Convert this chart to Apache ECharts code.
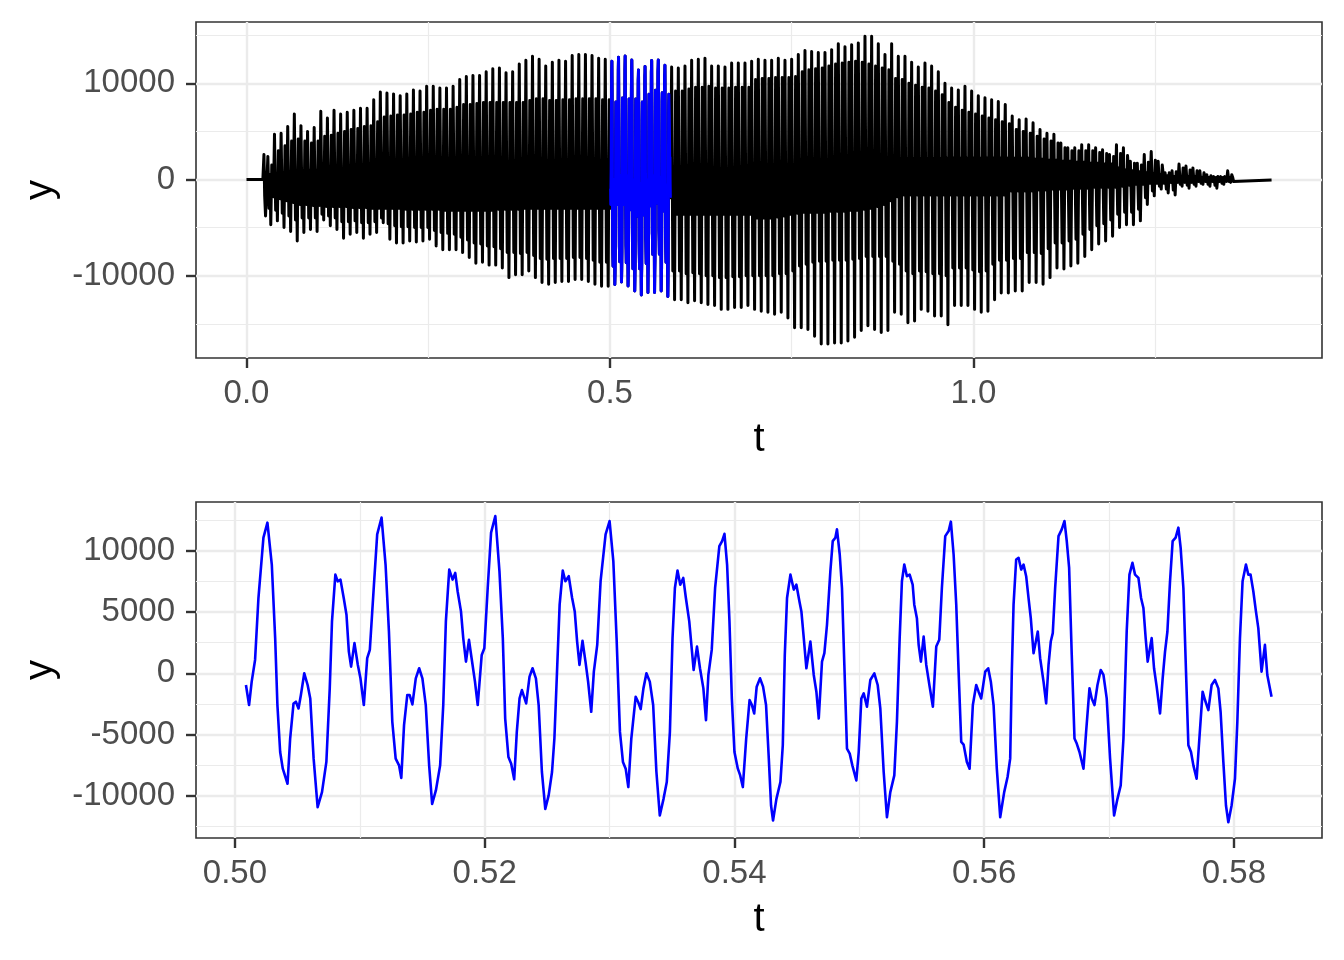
<!DOCTYPE html>
<html><head><meta charset="utf-8">
<script src="https://cdn.jsdelivr.net/npm/echarts@6/dist/echarts.min.js"></script>
<style>html,body{margin:0;padding:0;background:#fff}#c{width:1344px;height:960px}</style>
</head><body><div id="c"></div>
<script>
// ---------------- DATA ----------------
// Bottom panel: detailed waveform 0.501..0.583 s  [t, y]
const zoomSamples = [
[0.50088,-955],[0.50113,-2590],[0.50134,-680],[0.50161,1090],[0.50188,6140],[0.50228,11060],[0.50260,12285],[0.50295,8870],[0.50322,2870],[0.50340,-2590],[0.50362,-6420],[0.50383,-7780],[0.50421,-9010],[0.50442,-5320],[0.50469,-2460],[0.50488,-2320],[0.50509,-2870],[0.50528,-1770],[0.50555,0],[0.50582,-955],[0.50603,-2050],[0.50630,-6960],[0.50662,-10920],[0.50697,-9690],[0.50732,-7230],[0.50759,-1230],[0.50777,4230],[0.50804,8050],[0.50823,7500],[0.50845,7640],[0.50871,6140],[0.50893,4780],[0.50912,1770],[0.50930,546],[0.50957,2460],[0.50984,680],[0.51005,-410],[0.51032,-2590],[0.51059,1230],[0.51080,1910],
[0.51113,7230],[0.51139,11330],[0.51174,12700],[0.51206,8870],[0.51233,3410],[0.51260,-3960],[0.51287,-6960],[0.51314,-7510],[0.51332,-8540],[0.51354,-4230],[0.51380,-1770],[0.51399,-1770],[0.51421,-2540],[0.51448,-410],[0.51475,410],[0.51501,-410],[0.51528,-2590],[0.51555,-7510],[0.51579,-10650],[0.51609,-9555],[0.51643,-7510],[0.51668,-2590],[0.51689,4230],[0.51716,8460],[0.51743,7640],[0.51764,8190],[0.51783,6690],[0.51810,5050],[0.51828,2870],[0.51850,955],[0.51874,2730],[0.51895,1230],[0.51922,-680],[0.51944,-2590],[0.51976,1500],[0.51997,2050],[0.52024,6960],[0.52051,11470],
[0.52085,12830],[0.52118,8330],[0.52145,2870],[0.52164,-3690],[0.52190,-6830],[0.52212,-7370],[0.52236,-8650],[0.52257,-4780],[0.52279,-2050],[0.52298,-1365],[0.52332,-2460],[0.52359,-273],[0.52383,410],[0.52410,-410],[0.52432,-2590],[0.52458,-8050],[0.52485,-11060],[0.52512,-9960],[0.52539,-8050],[0.52558,-5320],[0.52579,137],[0.52600,5600],[0.52625,8380],[0.52646,7510],[0.52673,7920],[0.52700,6140],[0.52721,5050],[0.52740,2590],[0.52759,680],[0.52783,2650],[0.52807,955],[0.52828,-680],[0.52853,-3140],[0.52874,137],[0.52901,2320],[0.52928,7510],[0.52968,11330],
[0.53000,12420],[0.53030,9150],[0.53056,2870],[0.53083,-4780],[0.53107,-7230],[0.53129,-7780],[0.53150,-9280],[0.53174,-5320],[0.53209,-1910],[0.53228,-2320],[0.53249,-2920],[0.53271,-1230],[0.53295,0],[0.53322,-680],[0.53349,-2590],[0.53375,-8050],[0.53402,-11600],[0.53432,-10240],[0.53458,-8870],[0.53483,-4780],[0.53504,2870],[0.53523,6960],[0.53544,8380],[0.53566,7230],[0.53590,7780],[0.53611,6140],[0.53638,4230],[0.53660,1770],[0.53673,273],[0.53700,2180],[0.53724,410],[0.53751,-1230],[0.53772,-3820],[0.53791,-137],[0.53818,1910],[0.53845,6960],[0.53879,10370],[0.53901,10780],
[0.53920,11380],[0.53941,8870],[0.53960,4230],[0.53979,-2050],[0.54000,-6420],[0.54027,-7780],[0.54046,-8330],[0.54067,-9280],[0.54094,-5320],[0.54121,-2180],[0.54140,-2590],[0.54158,-3280],[0.54178,-1090],[0.54205,-410],[0.54229,-1090],[0.54253,-2590],[0.54275,-6960],[0.54293,-10780],[0.54309,-12010],[0.54336,-10240],[0.54368,-8870],[0.54387,-5870],[0.54403,1500],[0.54421,6140],[0.54448,8050],[0.54475,6830],[0.54496,7230],[0.54520,5870],[0.54536,5050],[0.54555,2870],[0.54576,410],[0.54608,2590],[0.54635,-137],[0.54656,-1500],[0.54675,-3690],[0.54701,955],[0.54720,1640],[0.54741,3960],[0.54768,8330],[0.54787,10780],[0.54808,11060],
[0.54821,11740],[0.54843,9690],[0.54861,6960],[0.54880,680],[0.54901,-6140],[0.54923,-6550],[0.54944,-7510],[0.54976,-8740],[0.54995,-6420],[0.55016,-2050],[0.55035,-1640],[0.55061,-2730],[0.55088,-546],[0.55120,0],[0.55147,-955],[0.55168,-2870],[0.55195,-8050],[0.55221,-11740],[0.55248,-9690],[0.55280,-8330],[0.55301,-3960],[0.55323,2870],[0.55341,7510],[0.55360,8870],[0.55381,7920],[0.55403,8050],[0.55427,7230],[0.55440,5600],[0.55461,4500],[0.55475,2320],[0.55493,955],[0.55515,3000],[0.55536,680],[0.55563,-1090],[0.55589,-2730],[0.55616,2180],[0.55640,2730],[0.55661,6960],[0.55688,11190],[0.55715,11600],
[0.55733,12370],[0.55755,9690],[0.55776,5600],[0.55795,137],[0.55816,-5600],[0.55835,-5810],[0.55861,-7230],[0.55883,-7780],[0.55909,-2590],[0.55936,-955],[0.55955,-1500],[0.55976,-2050],[0.56008,137],[0.56032,410],[0.56053,-680],[0.56075,-2590],[0.56101,-7780],[0.56128,-11740],[0.56160,-9690],[0.56187,-8460],[0.56208,-6960],[0.56221,137],[0.56235,5600],[0.56256,9280],[0.56275,9420],[0.56296,8460],[0.56315,8870],[0.56336,7920],[0.56355,6140],[0.56373,4500],[0.56395,1640],[0.56408,1500],[0.56429,3410],[0.56448,1230],[0.56475,-680],[0.56496,-2460],[0.56515,680],[0.56533,2590],[0.56549,3280],[0.56568,6960],[0.56595,11190],[0.56621,11740],
[0.56643,12420],[0.56661,10780],[0.56680,8600],[0.56701,1500],[0.56723,-5320],[0.56741,-5730],[0.56763,-6420],[0.56795,-7780],[0.56816,-4780],[0.56843,-1230],[0.56861,-2050],[0.56883,-2590],[0.56907,-955],[0.56933,273],[0.56955,-137],[0.56981,-2050],[0.57008,-6960],[0.57040,-11600],[0.57067,-10240],[0.57093,-9150],[0.57115,-5320],[0.57141,3410],[0.57163,8050],[0.57187,9010],[0.57208,8050],[0.57235,7780],[0.57256,6140],[0.57275,5320],[0.57293,2870],[0.57309,955],[0.57341,2870],[0.57360,410],[0.57381,-1090],[0.57408,-3280],[0.57429,-410],[0.57448,1770],[0.57467,3410],[0.57488,7510],[0.57509,10780],[0.57533,11060],
[0.57555,11880],[0.57573,10240],[0.57595,6960],[0.57616,137],[0.57635,-5870],[0.57656,-6420],[0.57675,-7510],[0.57701,-8600],[0.57723,-5320],[0.57749,-1500],[0.57768,-2180],[0.57795,-3000],[0.57821,-955],[0.57848,-546],[0.57875,-1230],[0.57893,-3140],[0.57915,-7230],[0.57936,-10780],[0.57955,-12150],[0.57981,-10780],[0.58008,-8600],[0.58027,-3960],[0.58048,2870],[0.58069,7510],[0.58096,8870],[0.58115,8050],[0.58133,8050],[0.58155,6690],[0.58176,5050],[0.58195,3690],[0.58221,137],[0.58248,2320],[0.58267,-137],[0.58301,-1910]
];

// Top panel: onset and tail (flat silence) samples
const onsetT = [0, 0.0225, 0.0240, 0.0250, 0.0262, 0.0278];
const onsetY = [0, 0, 2600, -1700, -3800, -600];
const tailT = [1.3580, 1.4100];
const tailY = [-100, -60];

// Top panel: one entry per glottal cycle (values in hundreds).
// Cycles 0..51 precede the blue segment, 52..134 follow it.
const topPeak = [24,47,48,55,68,56,50,54,71,64,72,68,70,72,74,74,83,91,90,89,87,89,93,92,97,97,95,95,97,104,107,108,108,112,115,116,111,112,120,124,128,125,118,122,124,123,129,130,130,129,126,125,
117,116,118,124,125,126,118,118,117,121,121,121,
123,125,124,124,126,124,125,130,134,133,132,132,135,141,138,140,142,149,149,141,130,141,128,128,122,117,121,118,112,100,95,93,97,92,87,85,83,81,
78,66,62,63,59,52,48,47,38,33,33,36,36,33,31,26,36,33,19,17,26,29,19,7,9,16,14,12,9,5,3,3,9];
const topPeak2 = [15,30,35,40,42,40,38,40,45,46,48,50,52,53,55,56,60,65,66,67,67,68,70,70,72,73,73,73,75,78,78,79,80,80,80,80,80,80,80,82,84,84,82,82,83,83,84,84,84,84,83,83,
92,92,94,96,96,97,95,95,95,96,96,96,
104,105,105,106,106,106,107,112,114,115,116,118,120,121,122,123,122,120,118,116,114,105,104,100,98,96,95,92,88,80,75,72,70,68,66,64,62,60,
58,52,50,48,45,42,40,38,33,30,30,30,30,28,27,24,27,25,17,15,18,20,15,7,8,12,10,9,7,4,3,3,5];
const topTrough1 = [-30,-32,-35,-38,-42,-40,-40,-40,-36,-38,-40,-44,-44,-43,-45,-45,-44,-40,-46,-48,-49,-49,-50,-50,-50,-53,-55,-56,-57,-60,-63,-66,-67,-69,-70,-72,-76,-76,-77,-76,-79,-82,-83,-82,-82,-82,-81,-81,-82,-84,-86,-86,
-95,-95,-98,-97,-98,-100,-100,-102,-102,-101,-101,-100,
-100,-100,-100,-100,-98,-98,-95,-90,-88,-86,-85,-85,-84,-84,-84,-83,-82,-80,-80,-80,-80,-85,-88,-95,-98,-95,-96,-98,-98,-100,-92,-92,-92,-94,-96,-95,-88,-84,
-84,-82,-82,-76,-76,-77,-72,-66,-66,-64,-62,-57,-52,-48,-46,-42,-36,-34,-34,-31,-19,-12,-7,-10,-11,-5,-6,-5,-4,-5,-6,-4,-2];
const topTrough2 = [-47,-43,-50,-54,-64,-55,-52,-54,-42,-48,-52,-61,-57,-55,-61,-57,-55,-45,-62,-66,-66,-64,-65,-64,-62,-69,-73,-73,-73,-76,-81,-87,-86,-89,-89,-92,-102,-99,-99,-95,-102,-107,-109,-107,-106,-106,-104,-104,-106,-109,-111,-111,
-125,-125,-128,-126,-128,-130,-131,-135,-135,-133,-133,-131,
-135,-137,-138,-140,-138,-144,-154,-154,-156,-163,-171,-171,-170,-170,-168,-164,-157,-152,-156,-159,-157,-138,-140,-149,-147,-135,-137,-142,-142,-151,-131,-131,-131,-135,-138,-137,-125,-118,
-118,-116,-116,-107,-107,-109,-102,-92,-93,-90,-87,-80,-73,-67,-64,-59,-50,-47,-47,-43,-26,-17,-10,-14,-16,-7,-9,-7,-5,-7,-9,-5,-3];
const topBandHi = [5,6,7,8,9,9,10,10,10,10,10,10,10,10,11,11,11,11,11,11,12,12,12,12,12,12,12,12,12,12,12,12,12,12,11,11,11,11,11,11,10,10,10,10,10,10,10,10,10,10,10,10,
0,0,0,0,0,0,0,0,0,0,0,0,
0,0,2,4,6,8,10,12,12,12,12,12,12,12,12,12,12,14,16,18,20,22,22,22,22,22,22,22,22,22,22,22,22,22,22,22,22,22,
22,22,22,22,21,21,20,20,19,19,18,18,17,17,16,16,12,10,9,8,7,6,5,4,3,3,3,3,2,2,2,2,2];
const topBandLo = [-18,-20,-22,-24,-26,-26,-27,-27,-28,-28,-28,-28,-29,-29,-29,-30,-30,-30,-30,-30,-31,-31,-31,-31,-31,-31,-32,-32,-32,-32,-32,-32,-32,-32,-31,-31,-31,-31,-30,-30,-30,-30,-30,-30,-30,-30,-30,-30,-30,-30,-30,-30,
-36,-36,-36,-36,-36,-36,-36,-36,-36,-36,-36,-36,
-40,-40,-40,-39,-38,-36,-35,-34,-34,-34,-34,-33,-33,-33,-32,-32,-31,-30,-28,-26,-22,-18,-16,-16,-16,-16,-16,-16,-16,-16,-16,-16,-16,-16,-16,-16,-16,-16,
-12,-12,-12,-12,-11,-11,-10,-10,-10,-9,-9,-9,-8,-8,-8,-8,-7,-6,-5,-5,-4,-4,-4,-3,-3,-3,-3,-2,-2,-2,-2,-2,-2];
// cycle timing: first main-peak time, period and number of cycles per stretch
const segStart = [0.0294, 0.5848, 1.0437];
const segPeriod = [0.0091, 0.00917, 0.00956];
const segCount = [52, 50, 33];
// position of each turning point inside a cycle (fraction of the period)
const cyclePhase = [0, 0.176, 0.24, 0.33, 0.44, 0.59, 0.73, 0.845];

// Axis ticks / grid
const topXMajor = [0, 0.5, 1.0], topXMinor = [0.25, 0.75, 1.25];
const topYMajor = [-10000, 0, 10000], topYMinor = [-15000, -5000, 5000, 15000];
const botXMajor = [0.50, 0.52, 0.54, 0.56, 0.58], botXMinor = [0.51, 0.53, 0.55, 0.57];
const botYMajor = [-10000, -5000, 0, 5000, 10000], botYMinor = [-12500, -7500, -2500, 2500, 7500, 12500];

// ---------------- BUILD ----------------
const blackData = [];
onsetT.forEach((t, k) => blackData.push([t, onsetY[k]]));
function pushCycles(seg, from) {
  for (let c = 0; c < segCount[seg]; c++) {
    const i = from + c;
    const t0 = segStart[seg] + c * segPeriod[seg];
    const vals = [topPeak[i], topTrough1[i], topBandLo[i], topBandHi[i], topTrough2[i], topPeak2[i], topBandHi[i], topBandLo[i]];
    cyclePhase.forEach((ph, p) => blackData.push([t0 + ph * segPeriod[seg], vals[p] * 100]));
  }
}
pushCycles(0, 0);
zoomSamples.forEach(d => blackData.push(d));
pushCycles(1, segCount[0]);
pushCycles(2, segCount[0] + segCount[1]);
tailT.forEach((t, k) => blackData.push([t, tailY[k]]));

const FONT = "'Liberation Sans', Arial, Helvetica, sans-serif";
const GRIDC = '#EBEBEB';
function gridLines(idx, xMaj, xMin, yMaj, yMin) {
  const d = [];
  xMin.forEach(v => d.push({xAxis: v, lineStyle: {color: GRIDC, width: 1.2, type: 'solid'}}));
  yMin.forEach(v => d.push({yAxis: v, lineStyle: {color: GRIDC, width: 1.2, type: 'solid'}}));
  xMaj.forEach(v => d.push({xAxis: v, lineStyle: {color: GRIDC, width: 2.4, type: 'solid'}}));
  yMaj.forEach(v => d.push({yAxis: v, lineStyle: {color: GRIDC, width: 2.4, type: 'solid'}}));
  return {type: 'line', xAxisIndex: idx, yAxisIndex: idx, data: [], silent: true, z: 1,
    markLine: {silent: true, z: 1, symbol: ['none', 'none'], label: {show: false}, animation: false,
      lineStyle: {type: 'solid'}, emphasis: {disabled: true}, data: d}};
}
function xAxisDef(idx, min, max, ticks, dec) {
  return {type: 'value', gridIndex: idx, min: min, max: max,
    axisLine: {show: false, onZero: false}, splitLine: {show: false},
    axisTick: {show: true, length: 10, customValues: ticks, lineStyle: {color: '#333333', width: 2.4}},
    axisLabel: {customValues: ticks, formatter: v => v.toFixed(dec), fontSize: 33, color: '#4D4D4D', fontFamily: FONT, margin: 19},
    name: 't', nameLocation: 'middle', nameGap: 62, nameTextStyle: {fontSize: 40, color: '#000', fontFamily: FONT}};
}
function yAxisDef(idx, min, max, ticks) {
  return {type: 'value', gridIndex: idx, min: min, max: max,
    axisLine: {show: false, onZero: false}, splitLine: {show: false},
    axisTick: {show: true, length: 10, customValues: ticks, lineStyle: {color: '#333333', width: 2.4}},
    axisLabel: {customValues: ticks, formatter: v => String(v), fontSize: 33, color: '#4D4D4D', fontFamily: FONT, margin: 21},
    name: 'y', nameLocation: 'middle', nameGap: 132, nameTextStyle: {fontSize: 40, color: '#000', fontFamily: FONT}};
}

const chart = echarts.init(document.getElementById('c'), null, {renderer: 'canvas'});
chart.setOption({
  animation: false,
  backgroundColor: '#ffffff',
  grid: [
    {left: 196, top: 22, width: 1126, height: 336, show: true, borderColor: '#333333', borderWidth: 1.6, backgroundColor: '#ffffff', containLabel: false},
    {left: 196, top: 502, width: 1126, height: 336, show: true, borderColor: '#333333', borderWidth: 1.6, backgroundColor: '#ffffff', containLabel: false}
  ],
  xAxis: [xAxisDef(0, -0.06946, 1.47937, topXMajor, 1), xAxisDef(1, 0.49688, 0.58705, botXMajor, 2)],
  yAxis: [yAxisDef(0, -18555, 16372, topYMajor), yAxisDef(1, -13434, 13972, botYMajor)],
  series: [
    gridLines(0, topXMajor, topXMinor, topYMajor, topYMinor),
    gridLines(1, botXMajor, botXMinor, botYMajor, botYMinor),
    {type: 'line', xAxisIndex: 0, yAxisIndex: 0, data: blackData, showSymbol: false, symbol: 'none', z: 10,
      lineStyle: {color: '#000000', width: 3.0, join: 'round'}, silent: true},
    {type: 'line', xAxisIndex: 0, yAxisIndex: 0, data: zoomSamples, showSymbol: false, symbol: 'none', z: 11,
      lineStyle: {color: '#0000FF', width: 3.0, join: 'round'}, silent: true},
    {type: 'line', xAxisIndex: 1, yAxisIndex: 1, data: zoomSamples, showSymbol: false, symbol: 'none', z: 11,
      lineStyle: {color: '#0000FF', width: 2.6, join: 'round'}, silent: true}
  ]
});
</script></body></html>
